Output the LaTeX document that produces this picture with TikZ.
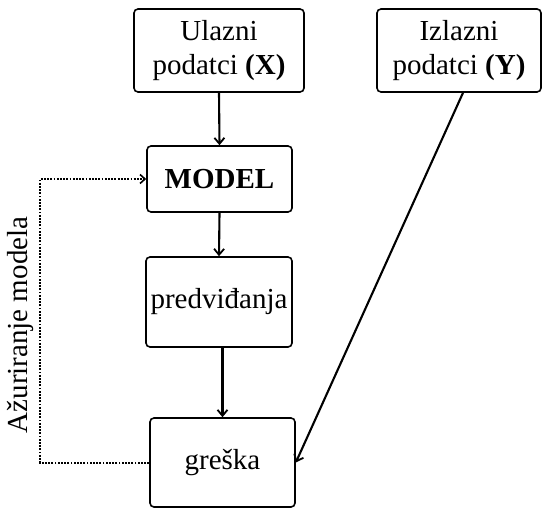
\documentclass[tikz,border=0pt]{standalone}
\usepackage{fontspec}
\setmainfont{Liberation Serif}
\usetikzlibrary{arrows.meta}
\begin{document}
\begin{tikzpicture}[x=1pt,y=-1pt,
  box/.style={draw,rounded corners=4pt,line width=1.6pt,align=center,inner sep=0pt,
    font=\fontsize{29}{34}\selectfont},
  arr/.style={line width=2.1pt,-{Straight Barb[length=6pt,width=10pt,line width=1.8pt]}},
  fb/.style={line width=2pt,dash pattern=on 1.8pt off 1.4pt,-{Straight Barb[length=5pt,width=9pt,line width=1.6pt]}}]
\useasboundingbox (0,0) rectangle (545,508);
\node[box,minimum width=170pt,minimum height=83pt] (ulaz) at (219,50.5) {Ulazni\\podatci \textbf{(X)}};
\node[box,minimum width=164pt,minimum height=83pt] (izlaz) at (459,50.5) {Izlazni\\podatci \textbf{(Y)}};
\node[box,minimum width=145pt,minimum height=66pt] (model) at (219.5,179) {\textbf{MODEL}};
\node[box,minimum width=146pt,minimum height=90pt] (pred) at (219,302) {predviđanja};
\node[box,minimum width=145pt,minimum height=89pt] (greska) at (222.5,462.5) {greška};
\coordinate (left) at (40,462.5);
\draw[arr] (ulaz.south) -- (model.north);
\draw[arr] (model.south) -- (pred.north);
\draw[arr] (pred.south -| greska.north) -- (greska.north);
\draw[arr] ([xshift=4pt]izlaz.south) -- (greska.east);
\draw[fb] (greska.west) -- (left) |- (model.west);
\node[rotate=90,font=\fontsize{29}{34}\selectfont,inner sep=0pt] (lbl) at (20,325) {Ažuriranje modela};
\end{tikzpicture}
\end{document}
